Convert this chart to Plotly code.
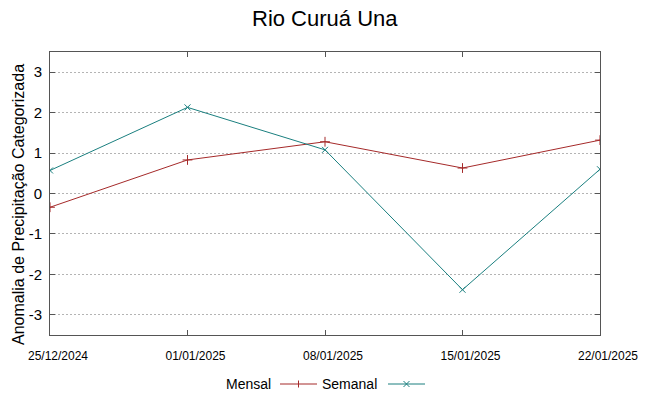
import plotly.graph_objects as go

dates = ["2024-12-25", "2025-01-01", "2025-01-08", "2025-01-15", "2025-01-22"]
tick_labels = ["25/12/2024", "01/01/2025", "08/01/2025", "15/01/2025", "22/01/2025"]
mensal = [-0.34, 0.83, 1.28, 0.63, 1.32]
semanal = [0.57, 2.13, 1.08, -2.38, 0.60]
y_ticks = [-3, -2, -1, 0, 1, 2, 3]
y_tick_labels = ["-3", "-2", "-1", "0", "1", "2", "3"]

RED = "#a52a2a"
TEAL = "#1a7f7f"

W, H = 648, 396
L, R, T, B = 50, 600, 52, 335

fig = go.Figure()
fig.add_trace(go.Scatter(x=dates, y=mensal, mode="lines+markers", name="Mensal",
                         line=dict(color=RED, width=1),
                         marker=dict(symbol="cross-thin", size=7, line=dict(color=RED, width=1)),
                         showlegend=False))
fig.add_trace(go.Scatter(x=dates, y=semanal, mode="lines+markers", name="Semanal",
                         line=dict(color=TEAL, width=1),
                         marker=dict(symbol="x-thin", size=6, line=dict(color=TEAL, width=1)),
                         showlegend=False))

def px(x):
    return (x - L) / (R - L)

def py(y):
    return (B - y) / (B - T)

shapes = []
annotations = []
leg_y = 384
items = [("Mensal", RED, "+", 273, 280, 317), ("Semanal", TEAL, "x", 379, 388, 425)]
for name, col, sym, text_right, x0, x1 in items:
    annotations.append(dict(x=px(text_right), y=py(leg_y), xref="paper", yref="paper",
                            text=name, showarrow=False, xanchor="right", yanchor="middle",
                            font=dict(family="Liberation Sans", size=14, color="#000")))
    shapes.append(dict(type="line", xref="paper", yref="paper", x0=px(x0), x1=px(x1),
                       y0=py(leg_y), y1=py(leg_y), line=dict(color=col, width=1)))
    cx = (x0 + x1) / 2
    if sym == "+":
        shapes.append(dict(type="line", xref="paper", yref="paper", x0=px(cx), x1=px(cx),
                           y0=py(leg_y - 3.5), y1=py(leg_y + 3.5), line=dict(color=col, width=1)))
    else:
        shapes.append(dict(type="line", xref="paper", yref="paper", x0=px(cx - 3), x1=px(cx + 3),
                           y0=py(leg_y - 3), y1=py(leg_y + 3), line=dict(color=col, width=1)))
        shapes.append(dict(type="line", xref="paper", yref="paper", x0=px(cx - 3), x1=px(cx + 3),
                           y0=py(leg_y + 3), y1=py(leg_y - 3), line=dict(color=col, width=1)))

annotations.append(dict(x=px(325), y=py(18.5), xref="paper", yref="paper", text="Rio Curuá Una",
                        showarrow=False, xanchor="center", yanchor="middle",
                        font=dict(family="Liberation Sans", size=22, color="#000")))
annotations.append(dict(x=px(18), y=py(205), xref="paper", yref="paper",
                        text="Anomalia de Precipitação Categorizada", textangle=-90,
                        showarrow=False, xanchor="center", yanchor="middle",
                        font=dict(family="Liberation Sans", size=16, color="#000")))

fig.update_layout(
    width=W, height=H,
    margin=dict(l=L, r=W - R, t=T, b=H - B, pad=0, autoexpand=False),
    paper_bgcolor="white", plot_bgcolor="white",
    font=dict(family="Liberation Sans", color="#000"),
    shapes=shapes, annotations=annotations,
)
fig.update_xaxes(type="date", range=[dates[0], dates[-1]], tickvals=dates, ticktext=tick_labels,
                 ticks="inside", ticklen=5, tickcolor="#555", mirror="ticks", showline=True,
                 linecolor="#555", linewidth=1, showgrid=False, zeroline=False, automargin=False,
                 ticklabelstandoff=10, ticklabelshift=8,
                 tickfont=dict(family="Liberation Sans", size=12, color="#000"))
fig.update_yaxes(range=[-3.5, 3.5], tickvals=y_ticks, ticktext=y_tick_labels,
                 ticks="inside", ticklen=5, tickcolor="#555", mirror="ticks", showline=True,
                 linecolor="#555", linewidth=1, showgrid=True, gridcolor="#b4b4b4", griddash="2px,2px",
                 gridwidth=1, zeroline=False, ticklabelstandoff=4, automargin=False,
                 tickfont=dict(family="Liberation Sans", size=15, color="#000"))

fig.write_html("out.html", config={"displayModeBar": False},
               post_script="document.documentElement.style.margin='0';document.body.style.margin='0';document.body.style.padding='0';")
